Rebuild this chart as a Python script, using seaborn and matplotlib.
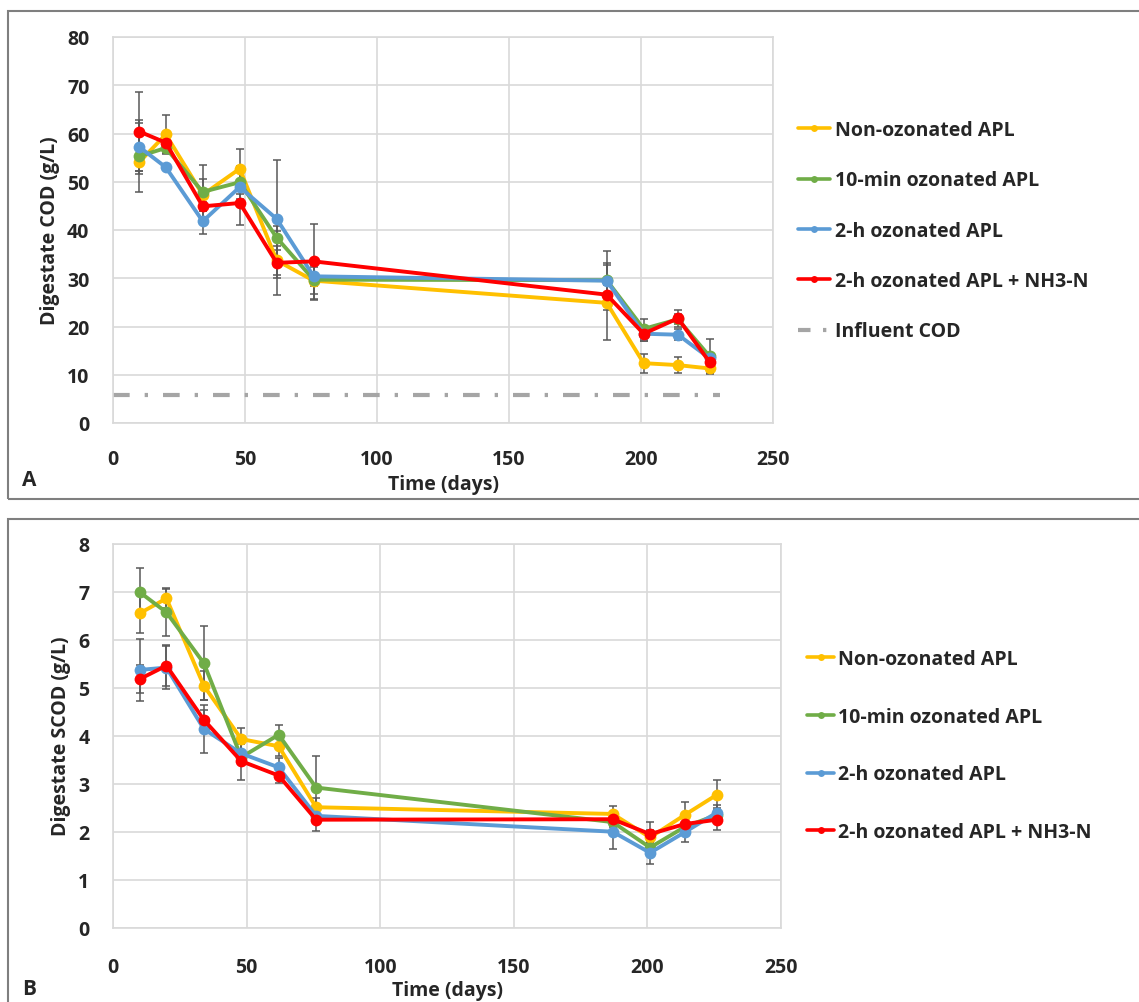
import numpy as np
import pandas as pd
import matplotlib
matplotlib.use("Agg")
import matplotlib.pyplot as plt
from matplotlib.patches import Rectangle
from matplotlib.lines import Line2D
import seaborn as sns

# Sampling days of the digestion run
days = [10, 20, 34, 48, 62, 76, 187, 201, 214, 226]

series_names = ["Non-ozonated APL", "10-min ozonated APL",
                "2-h ozonated APL", "2-h ozonated APL + NH3-N"]
series_colors = ["#FFC000", "#70AD47", "#5B9BD5", "#FF0000"]

# Digestate total COD (g/L)
cod_non = [54.1, 59.8, 47.3, 52.7, 33.7, 29.5, 24.9, 12.4, 12.0, 11.3]
cod_10min = [55.3, 57.0, 47.9, 49.9, 38.4, 29.7, 29.6, 19.5, 21.5, 13.8]
cod_2h = [57.2, 53.0, 41.8, 48.9, 42.3, 30.4, 29.5, 18.5, 18.3, 13.4]
cod_2h_nh3 = [60.4, 58.1, 44.9, 45.6, 33.2, 33.5, 26.6, 18.5, 21.7, 12.6]

cod_non_err = [2.5, 4.1, 3.3, 4.0, 3.0, 4.1, 7.8, 2.0, 1.7, 1.0]
cod_10min_err = [7.4, 1.0, 5.6, 3.4, 2.5, 3.0, 3.5, 2.1, 1.0, 3.6]
cod_2h_err = [5.0, 0.6, 2.6, 1.5, 12.2, 2.0, 6.1, 1.5, 1.2, 1.0]
cod_2h_nh3_err = [8.2, 1.0, 1.0, 4.5, 6.6, 7.7, 2.0, 1.5, 1.8, 1.0]

# Influent COD reference level (g/L)
influent_days = [0, 230]
influent_cod = [5.7, 5.7]

# Digestate soluble COD (g/L)
scod_non = [6.55, 6.86, 5.04, 3.93, 3.78, 2.51, 2.37, 1.88, 2.35, 2.77]
scod_10min = [6.99, 6.57, 5.51, 3.55, 4.02, 2.92, 2.20, 1.67, 2.10, 2.35]
scod_2h = [5.37, 5.42, 4.14, 3.63, 3.34, 2.33, 2.00, 1.56, 1.99, 2.40]
scod_2h_nh3 = [5.18, 5.46, 4.33, 3.47, 3.17, 2.25, 2.26, 1.95, 2.16, 2.25]

scod_non_err = [0.42, 0.20, 0.30, 0.24, 0.20, 0.20, 0.17, 0.15, 0.26, 0.31]
scod_10min_err = [0.50, 0.50, 0.77, 0.10, 0.21, 0.66, 0.10, 0.10, 0.10, 0.15]
scod_2h_err = [0.64, 0.45, 0.49, 0.20, 0.20, 0.10, 0.36, 0.23, 0.21, 0.15]
scod_2h_nh3_err = [0.30, 0.42, 0.20, 0.39, 0.15, 0.23, 0.10, 0.26, 0.15, 0.21]

x_ticks = [0, 50, 100, 150, 200, 250]

sns.set_theme(style="white")
plt.rcParams["font.family"] = ["Open Sans", "DejaVu Sans"]
plt.rcParams["font.weight"] = "bold"

FS = 14
GRID = "#D9D9D9"
ERR = "#595959"


def long_frame(values, errors):
    rows = []
    for name, vals, errs in zip(series_names, values, errors):
        for d, v, e in zip(days, vals, errs):
            rows.append({"day": d, "value": v, "err": e, "series": name})
    return pd.DataFrame(rows)


def draw_panel(ax, df, ymax, ystep, xpad, xlabelpad):
    # error bars sit beneath the lines and markers
    for name in series_names:
        sub = df[df["series"] == name]
        ax.errorbar(sub["day"], sub["value"], yerr=sub["err"], fmt="none",
                    ecolor=ERR, elinewidth=1.1, capsize=3, capthick=1.1,
                    zorder=2)
    sns.lineplot(data=df, x="day", y="value", hue="series",
                 hue_order=series_names, palette=series_colors,
                 marker="o", markersize=8.5, markeredgewidth=0,
                 linewidth=2.8, sort=False, errorbar=None, legend=False,
                 ax=ax, zorder=3)
    for line in ax.get_lines():
        line.set_zorder(3)
    ax.set_xlim(0, 250)
    ax.set_ylim(0, ymax)
    ax.set_xticks(x_ticks)
    ax.set_yticks(np.arange(0, ymax + ystep / 2, ystep))
    ax.grid(True, color=GRID, linewidth=1.2)
    ax.set_axisbelow(True)
    for sp in ax.spines.values():
        sp.set_color(GRID)
        sp.set_linewidth(1.2)
    ax.tick_params(axis="both", length=0, labelsize=FS)
    ax.tick_params(axis="y", pad=17)
    ax.tick_params(axis="x", pad=xpad)
    for lab in ax.get_xticklabels() + ax.get_yticklabels():
        lab.set_fontweight("bold")
    ax.set_xlabel("Time (days)", fontsize=FS, fontweight="bold",
                  labelpad=xlabelpad)


fig = plt.figure(figsize=(11.39, 10.03), dpi=100)
W, H = 1139, 1003

# Panel frames
fig.add_artist(Rectangle((8 / W, 1 - 500 / H), 1.2, 488 / H,
                         transform=fig.transFigure, fill=False,
                         edgecolor="#7F7F7F", linewidth=1.5))
fig.add_artist(Rectangle((8 / W, -0.05), 1.2, 1 - 520 / H + 0.05,
                         transform=fig.transFigure, fill=False,
                         edgecolor="#7F7F7F", linewidth=1.5))

# Panel A: total COD
axA = fig.add_axes([113 / W, 1 - 424 / H, 660 / W, 386 / H])
dfA = long_frame([cod_non, cod_10min, cod_2h, cod_2h_nh3],
                 [cod_non_err, cod_10min_err, cod_2h_err, cod_2h_nh3_err])
draw_panel(axA, dfA, 80, 10, xpad=19, xlabelpad=3)
sns.lineplot(x=influent_days, y=influent_cod, ax=axA, color="#A5A5A5",
             linewidth=3, zorder=2.5)
axA.get_lines()[-1].set_dashes((4.0, 3.6, 0.8, 3.6))
axA.set_ylabel("Digestate COD (g/L)", fontsize=FS, fontweight="bold",
               labelpad=5)

handlesA = [Line2D([], [], color=c, lw=2.6, marker="o", ms=5,
                   markeredgewidth=0) for c in series_colors]
handlesA.append(Line2D([], [], color="#A5A5A5", lw=3,
                       dashes=(3.0, 3.0, 0.8, 3.0)))
legA = axA.legend(handlesA, series_names + ["Influent COD"],
                  loc="upper left", bbox_to_anchor=(798 / W, 1 - 121 / H),
                  bbox_transform=fig.transFigure, frameon=False,
                  fontsize=FS, labelspacing=1.56, handlelength=1.65,
                  handletextpad=0.25, borderpad=0, borderaxespad=0)
for t in legA.get_texts():
    t.set_fontweight("bold")

# Panel B: soluble COD
axB = fig.add_axes([113 / W, 1 - 928.7 / H, 668 / W, 384 / H])
dfB = long_frame([scod_non, scod_10min, scod_2h, scod_2h_nh3],
                 [scod_non_err, scod_10min_err, scod_2h_err, scod_2h_nh3_err])
draw_panel(axB, dfB, 8, 1, xpad=21, xlabelpad=2)
axB.set_ylabel("Digestate SCOD (g/L)", fontsize=FS, fontweight="bold",
               labelpad=5)

handlesB = [Line2D([], [], color=c, lw=2.6, marker="o", ms=5,
                   markeredgewidth=0) for c in series_colors]
legB = axB.legend(handlesB, series_names,
                  loc="upper left", bbox_to_anchor=(807 / W, 1 - 650 / H),
                  bbox_transform=fig.transFigure, frameon=False,
                  fontsize=FS, labelspacing=1.94, handlelength=1.4,
                  handletextpad=0.2, borderpad=0, borderaxespad=0)
for t in legB.get_texts():
    t.set_fontweight("bold")

# Panel letters
fig.text(22 / W, 1 - 480 / H, "A", fontsize=FS + 1, fontweight="bold",
         va="center", ha="left")
fig.text(22 / W, 1 - 990 / H, "B", fontsize=FS + 1, fontweight="bold",
         va="center", ha="left")

fig.savefig("out.png", dpi=100, facecolor="white")
